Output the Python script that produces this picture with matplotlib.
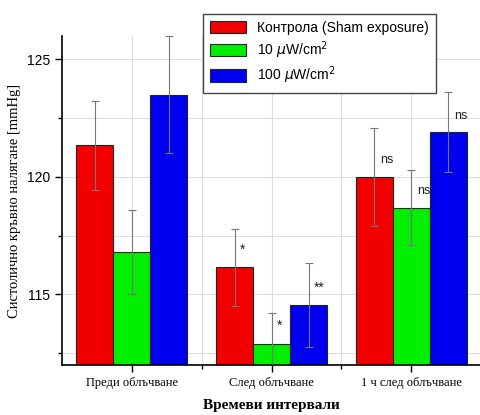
import matplotlib.pyplot as plt
import numpy as np

groups = ["Преди облъчване", "След облъчване", "1 ч след облъчване"]
series = ["Контрола", "10", "100"]
control = [121.35, 116.15, 120.0]
control_err = [1.9, 1.65, 2.1]
low = [116.8, 112.9, 118.7]
low_err = [1.8, 1.3, 1.6]
high = [123.5, 114.55, 121.9]
high_err = [2.5, 1.8, 1.7]
marks_control = ["", "*", "ns"]
marks_low = ["", "*", "ns"]
marks_high = ["", "**", "ns"]

SERIF = ["Liberation Serif", "DejaVu Serif"]
SANS = ["Liberation Sans", "DejaVu Sans"]

fig = plt.figure(figsize=(4.81, 4.15), dpi=100)
ax = fig.add_axes([0.129, 0.1205, 0.871, 0.7928])

x = np.arange(1, len(groups) + 1)
w = 0.265
data = [
    (control, control_err, marks_control, "#f20000", -w),
    (low, low_err, marks_low, "#00f000", 0.0),
    (high, high_err, marks_high, "#0000f0", w),
]
handles = []
for vals, errs, marks, color, off in data:
    b = ax.bar(x + off, np.array(vals) - 100, width=w, bottom=100, color=color,
               edgecolor="#222222", linewidth=0.8, zorder=2)
    handles.append(b)
    ax.errorbar(x + off, vals, yerr=errs, fmt="none", ecolor="#777777",
                elinewidth=0.8, capsize=3, capthick=0.8, zorder=3)
    for xi, v, m in zip(x + off, vals, marks):
        if m:
            ax.text(xi + 0.04, v + 0.45, m, ha="left", va="bottom",
                    fontsize=10 if m != "ns" else 9, family=SANS,
                    color="#222222", zorder=4)

ax.set_xlim(0.5, 3.5)
ax.set_ylim(112.0, 126.0)
ax.set_xticks(x)
ax.set_xticks(x[:-1] + 0.5, minor=True)
ax.set_xticklabels(groups, family=SERIF, fontsize=9)
ax.set_yticks([115, 120, 125])
ax.set_yticks([112.5, 117.5, 122.5], minor=True)
for lab in ax.get_yticklabels():
    lab.set_family(SANS)
    lab.set_fontsize(10)
ax.tick_params(axis="both", which="major", direction="out", length=5, width=1)
ax.tick_params(axis="both", which="minor", direction="out", length=3, width=1)
ax.grid(True, which="both", color="#dddddd", linewidth=0.8, zorder=0)
ax.set_axisbelow(True)
for s in ("top", "right"):
    ax.spines[s].set_visible(False)
for s in ("left", "bottom"):
    ax.spines[s].set_linewidth(1.2)

ax.set_ylabel("Систолично кръвно налягане [mmHg]", family=SERIF, fontsize=10.5)
ax.set_xlabel("Времеви интервали", family=SERIF, fontsize=11, fontweight="bold",
              labelpad=7)

leg = ax.legend(handles,
                ["Контрола (Sham exposure)", r"10 $\mu$W/cm$^2$", r"100 $\mu$W/cm$^2$"],
                loc="upper left", bbox_to_anchor=(0.336, 1.067), fancybox=False,
                edgecolor="#444444", framealpha=1, prop={"family": SANS, "size": 10},
                handlelength=2.6, handleheight=1.0, borderpad=0.5, labelspacing=0.3,
                borderaxespad=0)
leg.get_frame().set_linewidth(1.0)

fig.savefig("out.png", dpi=100)
